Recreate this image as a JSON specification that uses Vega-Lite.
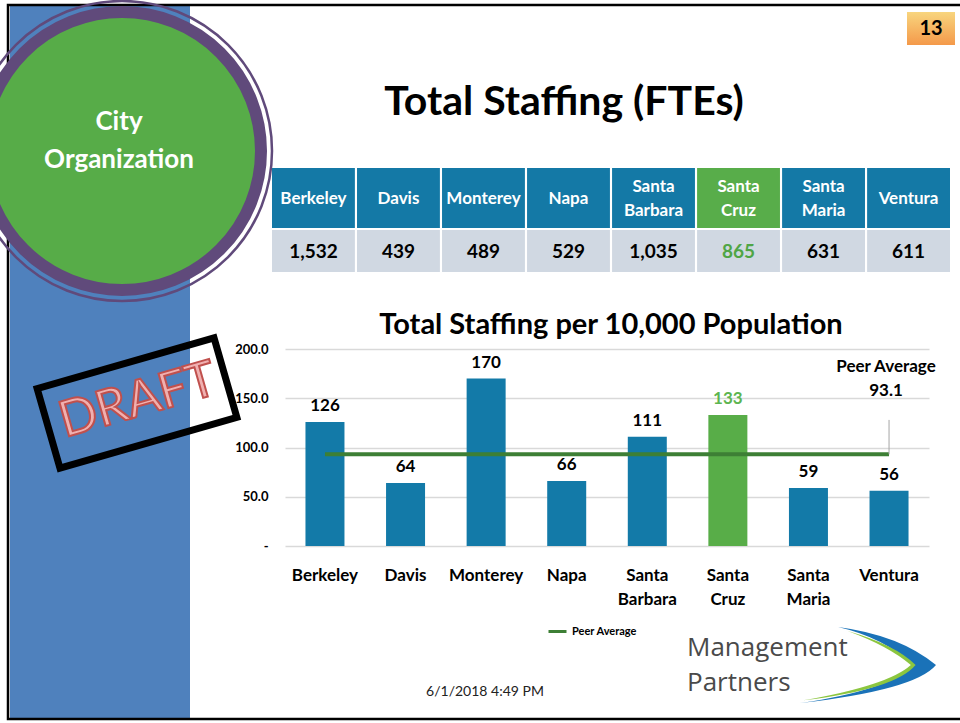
{
  "$schema": "https://vega.github.io/schema/vega-lite/v6.json",
  "width": 960,
  "height": 723,
  "autosize": {"type": "none"},
  "padding": 0,
  "background": "#ffffff",
  "config": {"view": {"stroke": null}, "font": "Lato"},
  "data": {"values": [{}]},
  "datasets": {
    "cities": [
      {"city": "Berkeley", "fte": 1532, "per10k": 126, "peer": 93.1},
      {"city": "Davis", "fte": 439, "per10k": 64, "peer": 93.1},
      {"city": "Monterey", "fte": 489, "per10k": 170, "peer": 93.1},
      {"city": "Napa", "fte": 529, "per10k": 66, "peer": 93.1},
      {"city": "Santa Barbara", "fte": 1035, "per10k": 111, "peer": 93.1},
      {"city": "Santa Cruz", "fte": 865, "per10k": 133, "peer": 93.1},
      {"city": "Santa Maria", "fte": 631, "per10k": 59, "peer": 93.1},
      {"city": "Ventura", "fte": 611, "per10k": 56, "peer": 93.1}
    ]
  },
  "layer": [
    {"mark": {"type": "rect", "fill": "#4F81BD"}, "encoding": {"x": {"value": 10}, "x2": {"value": 190}, "y": {"value": 6}, "y2": {"value": 718}}},
    {"mark": {"type": "rect", "filled": false, "stroke": "#000000", "strokeWidth": 2.5}, "encoding": {"x": {"value": 8}, "x2": {"value": 966}, "y": {"value": 5}, "y2": {"value": 719}}},
    {"mark": {"type": "point", "shape": "circle", "filled": false, "stroke": "#604A7B", "strokeWidth": 2.5, "opacity": 1, "size": 90000}, "encoding": {"x": {"value": 122}, "y": {"value": 151}}},
    {"mark": {"type": "point", "shape": "circle", "filled": true, "fill": "#57AC48", "stroke": "#604A7B", "strokeWidth": 12, "opacity": 1, "size": 77284}, "encoding": {"x": {"value": 122}, "y": {"value": 151}}},
    {"mark": {"type": "text", "text": ["City", "Organization"], "fontWeight": "bold", "fontSize": 26, "color": "#ffffff", "lineHeight": 38, "align": "center", "baseline": "middle"}, "encoding": {"x": {"value": 119}, "y": {"value": 122}}},
    {"mark": {"type": "point", "shape": "M -1 -0.45 L 1 -0.45 L 1 0.45 L -1 0.45 Z", "filled": false, "stroke": "#000000", "strokeWidth": 7, "opacity": 1, "size": 33856, "angle": -16}, "encoding": {"x": {"value": 137}, "y": {"value": 403}}},
    {"mark": {"type": "text", "text": "DRAFT", "fontSize": 50, "fill": "#F0B0B0", "stroke": "#C0504D", "strokeWidth": 2, "angle": -16, "align": "center", "baseline": "middle"}, "encoding": {"x": {"value": 138}, "y": {"value": 401}}},
    {"mark": {"type": "rect", "fill": {"gradient": "linear", "x1": 0, "y1": 0, "x2": 0, "y2": 1, "stops": [{"offset": 0, "color": "#F8D57E"}, {"offset": 1, "color": "#F4994A"}]}}, "encoding": {"x": {"value": 907}, "x2": {"value": 955}, "y": {"value": 12}, "y2": {"value": 45}}},
    {"mark": {"type": "text", "text": "13", "fontWeight": "bold", "fontSize": 20, "color": "#000000", "align": "center", "baseline": "middle"}, "encoding": {"x": {"value": 931}, "y": {"value": 29}}},
    {"mark": {"type": "text", "text": "Total Staffing (FTEs)", "fontWeight": "bold", "fontSize": 41, "color": "#000000", "align": "center", "baseline": "middle"}, "encoding": {"x": {"value": 564}, "y": {"value": 103}}},
    {
      "data": {"name": "cities"},
      "encoding": {"x": {"field": "city", "type": "nominal", "sort": null, "axis": null, "scale": {"range": [272, 950], "paddingInner": 0.025, "paddingOuter": 0}}},
      "layer": [
        {"mark": {"type": "rect"}, "encoding": {"y": {"value": 168}, "y2": {"value": 228}, "color": {"condition": {"test": "datum.city === 'Santa Cruz'", "value": "#58AD4A"}, "value": "#1479A6"}}},
        {"mark": {"type": "rect", "color": "#D0D8E2"}, "encoding": {"y": {"value": 230}, "y2": {"value": 272}}},
        {"transform": [{"filter": "indexof(datum.city, ' ') < 0"}], "mark": {"type": "text", "fontWeight": "bold", "fontSize": 17, "color": "#ffffff", "baseline": "middle"}, "encoding": {"y": {"value": 199}, "text": {"field": "city"}}},
        {"transform": [{"filter": "indexof(datum.city, ' ') >= 0"}], "mark": {"type": "text", "lineBreak": " ", "fontWeight": "bold", "fontSize": 17, "lineHeight": 24, "color": "#ffffff", "baseline": "middle"}, "encoding": {"y": {"value": 187}, "text": {"field": "city"}}},
        {"mark": {"type": "text", "fontWeight": "bold", "fontSize": 19, "baseline": "middle"}, "encoding": {"y": {"value": 252}, "text": {"field": "fte", "format": ","}, "color": {"condition": {"test": "datum.city === 'Santa Cruz'", "value": "#4FA545"}, "value": "#000000"}}}
      ]
    },
    {"mark": {"type": "text", "text": "Total Staffing per 10,000 Population", "fontWeight": "bold", "fontSize": 29, "color": "#000000", "align": "center", "baseline": "middle"}, "encoding": {"x": {"value": 611}, "y": {"value": 325}}},
    {
      "data": {"name": "cities"},
      "encoding": {"x": {"field": "city", "type": "nominal", "sort": null, "scale": {"range": [285, 929], "paddingInner": 0.516, "paddingOuter": 0.254},
        "axis": {"orient": "bottom", "offset": -177, "domain": false, "ticks": false, "labelPadding": 21, "labelAngle": 0, "labelFontSize": 17, "labelFontWeight": "bold", "labelColor": "#000000", "labelExpr": "split(datum.label, ' ')", "labelLineHeight": 24, "title": null}}},
      "layer": [
        {"mark": {"type": "bar"}, "encoding": {
          "y": {"field": "per10k", "type": "quantitative", "scale": {"domain": [0, 200], "range": [546, 349]},
            "axis": {"orient": "left", "offset": -285, "domain": false, "ticks": false, "values": [0, 50, 100, 150, 200], "labelExpr": "datum.value === 0 ? '-\u00a0\u00a0' : format(datum.value, '.1f')", "labelPadding": 17, "labelFontSize": 13, "labelFontWeight": "bold", "labelColor": "#000000", "gridColor": "#D9D9D9", "gridWidth": 1.5, "title": null}},
          "color": {"condition": {"test": "datum.city === 'Santa Cruz'", "value": "#58AD48"}, "value": "#137AA8"}}},
        {"mark": {"type": "text", "fontWeight": "bold", "fontSize": 17, "baseline": "bottom", "dy": -7}, "encoding": {
          "y": {"field": "per10k", "type": "quantitative"},
          "text": {"field": "per10k"},
          "color": {"condition": {"test": "datum.city === 'Santa Cruz'", "value": "#5CB550"}, "value": "#000000"}}},
        {"mark": {"type": "line", "strokeWidth": 4}, "encoding": {
          "y": {"field": "peer", "type": "quantitative"},
          "color": {"datum": "Peer Average", "type": "nominal", "scale": {"range": ["#3D7F35"]},
            "legend": {"orient": "none", "legendX": 547, "legendY": 621, "padding": 0, "title": null, "symbolType": "stroke", "symbolStrokeWidth": 3, "symbolSize": 324, "labelFontSize": 11, "labelFontWeight": "bold", "labelColor": "#000000"}}}},
        {"transform": [{"filter": "datum.city === 'Ventura'"}], "mark": {"type": "rule", "color": "#A6A6A6", "strokeWidth": 1}, "encoding": {"y": {"field": "peer", "type": "quantitative"}, "y2": {"datum": 128}}},
        {"transform": [{"filter": "datum.city === 'Ventura'"}], "mark": {"type": "text", "text": "Peer Average", "fontWeight": "bold", "fontSize": 17, "color": "#000000", "dy": -87, "dx": -3, "baseline": "middle"}, "encoding": {"y": {"field": "peer", "type": "quantitative"}}},
        {"transform": [{"filter": "datum.city === 'Ventura'"}], "mark": {"type": "text", "fontWeight": "bold", "fontSize": 17, "color": "#000000", "dy": -63, "dx": -3, "baseline": "middle"}, "encoding": {"y": {"field": "peer", "type": "quantitative"}, "text": {"field": "peer", "format": ".1f"}}}
      ]
    },
    {"mark": {"type": "point", "shape": "M -0.44 -0.56 Q 0.47 -0.44 1 0 Q 0.69 0.37 -1 0.56 Q 0.32 0.37 0.65 0 Q 0.25 -0.4 -0.44 -0.56 Z", "filled": true, "fill": "#1A72B8", "strokeWidth": 0, "opacity": 1, "size": 18496}, "encoding": {"x": {"value": 868}, "y": {"value": 665}}},
    {"mark": {"type": "point", "shape": "M -0.95 0.52 Q 0.3 0.3 0.63 0 Q 0.3 -0.28 -0.3 -0.5 Q 0.4 -0.3 0.7 0 Q 0.4 0.36 -0.95 0.52 Z", "filled": true, "fill": "#8CC63F", "strokeWidth": 0, "opacity": 1, "size": 18496}, "encoding": {"x": {"value": 868}, "y": {"value": 665}}},
    {"mark": {"type": "text", "text": "Management", "font": "Open Sans", "fontSize": 26, "color": "#4A4A4A", "align": "left", "baseline": "middle"}, "encoding": {"x": {"value": 687}, "y": {"value": 648}}},
    {"mark": {"type": "text", "text": "Partners", "font": "Open Sans", "fontSize": 26, "color": "#4A4A4A", "align": "left", "baseline": "middle"}, "encoding": {"x": {"value": 687}, "y": {"value": 683}}},
    {"mark": {"type": "text", "text": "6/1/2018 4:49 PM", "fontSize": 14, "color": "#222222", "align": "center", "baseline": "middle"}, "encoding": {"x": {"value": 485}, "y": {"value": 692}}}
  ],
  "resolve": {"scale": {"x": "independent", "y": "independent", "color": "independent"}}
}
